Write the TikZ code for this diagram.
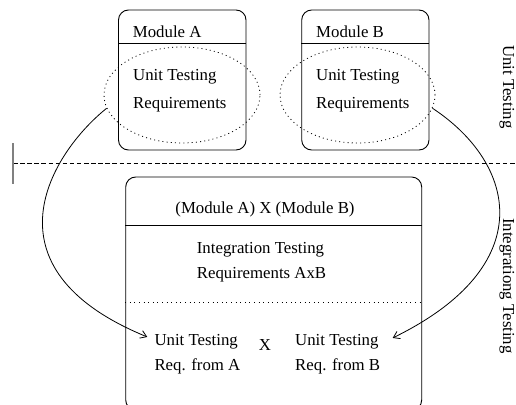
\documentclass[tikz,border=0pt]{standalone}
\usepackage{fontspec}
\setmainfont{Liberation Serif}
\usetikzlibrary{shapes.geometric,arrows.meta}
\begin{document}
\begin{tikzpicture}[x=1pt,y=-1pt,
  font=\fontsize{16.8}{20}\selectfont,
  txt/.style={inner sep=0pt,anchor=base west},
  modbox/.style={draw,line width=0.9pt,rounded corners=10pt,inner sep=0pt},
  reqell/.style={ellipse,draw,line width=0.8pt,dash pattern=on 1pt off 3.2pt,
                 minimum width=156pt,minimum height=96pt,inner sep=0pt},
  sep/.style={line width=0.7pt},
  link/.style={line width=0.8pt,-{Straight Barb[length=6pt,width=8pt]}}]
\useasboundingbox (0,0) rectangle (516,404);

% module boxes
\node[modbox,minimum width=127.5pt,minimum height=140pt] (modA) at (182.25,80) {};
\node[modbox,minimum width=127.3pt,minimum height=140pt] (modB) at (365.35,80) {};
\draw[sep] ([yshift=-34pt]modA.north west) -- ([yshift=-34pt]modA.north east);
\draw[sep] ([yshift=-34pt]modB.north west) -- ([yshift=-34pt]modB.north east);
\node[txt] (tA) at (132.7,37.3) {Module A};
\node[txt] (tB) at (316,37.3) {Module B};
\node[txt] (uA) at (133,81) {Unit Testing};
\node[txt] (rA) at (133,108) {Requirements};
\node[txt] (uB) at (316,81) {Unit Testing};
\node[txt] (rB) at (316,108) {Requirements};
\node[reqell] (ellA) at (182,95) {};
\node[reqell,minimum width=155pt] (ellB) at (357.5,95) {};

% level separator
\coordinate (dl) at (13,163);
\coordinate (dr) at (516,163);
\coordinate (tickT) at (13,143);
\coordinate (tickB) at (13,184);
\draw[line width=0.8pt,dash pattern=on 4.5pt off 2.6pt] (dl) -- (dr);
\draw[gray,line width=1.3pt] (tickT) -- (tickB);
\node[txt,rotate=-90] (lvU) at (503,45) {Unit Testing};
\node[txt,rotate=-90] (lvI) at (503,218) {Integrationg Testing};

% integration box
\node[modbox,minimum width=296pt,minimum height=233pt] (intB) at (273.7,293.5) {};
\draw[sep] ([yshift=-49pt]intB.north west) -- ([yshift=-49pt]intB.north east);
\draw[line width=0.8pt,dash pattern=on 1pt off 3.6pt] ([yshift=-126.3pt]intB.north west) -- ([yshift=-126.3pt]intB.north east);
\node[inner sep=0pt,anchor=base] (prod) at (265,213.3) {(Module A) X (Module B)};
\node[txt] (iT) at (196.7,253.3) {Integration Testing};
\node[txt] (iR) at (196.7,278) {Requirements AxB};
\node[txt] (fuA) at (154.3,345.7) {Unit Testing};
\node[txt] (frA) at (154.3,370) {Req. from A};
\node[inner sep=0pt,anchor=base] (times) at (265,350.7) {X};
\node[txt] (fuB) at (295,345.7) {Unit Testing};
\node[txt] (frB) at (295,370) {Req. from B};

% requirement flows
\draw[link] (ellA.190) .. controls (51,153) and (-21,268) .. ([xshift=-7pt,yshift=5pt]fuA.west);
\draw[link] (ellB.350) .. controls (517,164) and (540,266) .. ([xshift=14pt,yshift=4pt]fuB.east);
\end{tikzpicture}
\end{document}
